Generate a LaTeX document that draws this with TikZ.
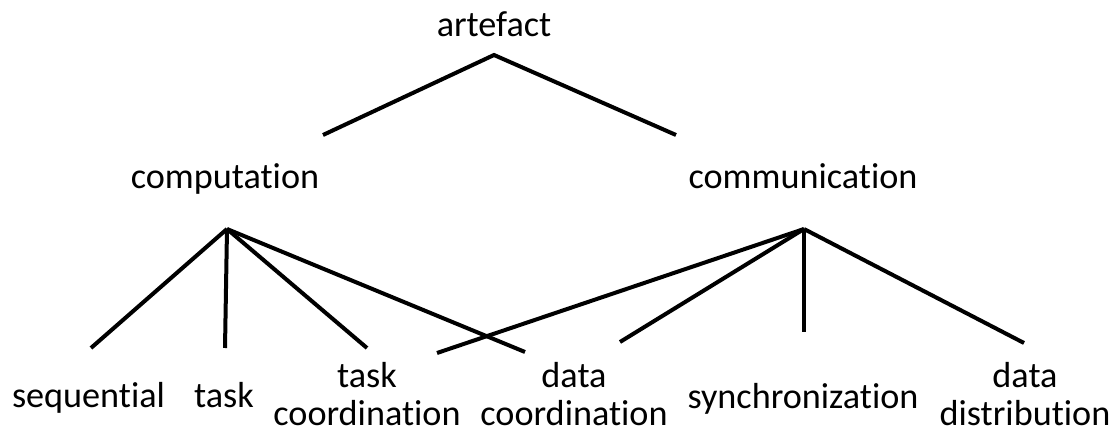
\documentclass[tikz,border=0pt]{standalone}
\usepackage{fontspec}
\setmainfont{Carlito}[Ligatures=NoCommon]
\begin{document}
\begin{tikzpicture}[x=1pt,y=-1pt,
  lbl/.style={inner sep=0pt, anchor=base, align=center,
    font=\fontsize{36.2}{38}\selectfont},
  edge/.style={line width=4pt, line cap=butt, line join=miter}]
\useasboundingbox (0,0) rectangle (1113,435);

% labels (two-line labels sit on the baseline of their last line)
\node[lbl] (artefact) at (494,37) {artefact};
\node[lbl] (computation) at (225,189) {computation};
\node[lbl] (communication) at (803,189) {communication};
\node[lbl] (sequential) at (88.5,407) {sequential};
\node[lbl] (task) at (224,407) {task};
\node[lbl] (taskcoord) at (367,425) {task\\coordination};
\node[lbl] (datacoord) at (574,425) {data\\coordination};
\node[lbl] (sync) at (803,408) {synchronization};
\node[lbl] (datadist) at (1025,425) {data\\distribution};

% joints and branch ends
\coordinate (apex) at (494,55);
\coordinate (artL) at (323,135);
\coordinate (artR) at (676,135);
\coordinate (compV) at (227,229);
\coordinate (commV) at (804,229);
\coordinate (toSeq) at (91,348);
\coordinate (toTask) at (225,348);
\coordinate (toTaskC) at (367,348);
\coordinate (toDataC) at (525,352);
\coordinate (commA) at (437,353);
\coordinate (commB) at (620,342);
\coordinate (toSync) at (804,332);
\coordinate (toDist) at (1024,343);

% branches
\draw[edge] (artL) -- (apex) -- (artR);
\foreach \e in {toSeq,toTask,toTaskC,toDataC}
  \draw[edge] (compV) -- (\e);
\foreach \e in {commA,commB,toSync,toDist}
  \draw[edge] (commV) -- (\e);
\end{tikzpicture}
\end{document}
